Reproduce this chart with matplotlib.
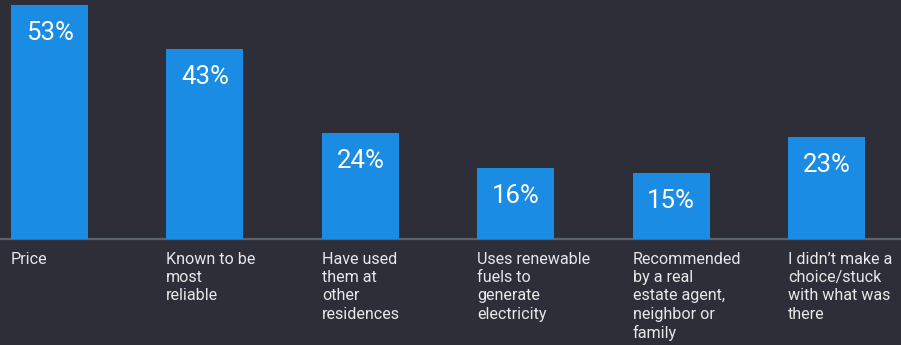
import matplotlib.pyplot as plt

categories = [
    "Price",
    "Known to be\nmost\nreliable",
    "Have used\nthem at\nother\nresidences",
    "Uses renewable\nfuels to\ngenerate\nelectricity",
    "Recommended\nby a real\nestate agent,\nneighbor or\nfamily",
    "I didn\u2019t make a\nchoice/stuck\nwith what was\nthere",
]
shares = [53, 43, 24, 16, 15, 23]

bg = "#2e2e38"
bar_color = "#1a8ce3"
bar_w = 0.496

fig = plt.figure(figsize=(9.01, 3.45), dpi=100, facecolor=bg)
ax = fig.add_axes([0, 0, 1, 1])
ax.set_facecolor(bg)

x = list(range(len(categories)))
ax.bar(x, shares, width=bar_w, color=bar_color, zorder=2)
ax.axhline(0, color="#5b626b", lw=1.6, zorder=1)

for i, v in zip(x, shares):
    # percentage label sits just inside the top of each bar
    ax.annotate(f"{v}%", (i, v), xytext=(0, -20), textcoords="offset points",
                ha="center", va="center", color="white",
                fontsize=18.5, family="Roboto")
    ax.annotate(categories[i], (i - bar_w / 2, 0), xytext=(0, -9),
                textcoords="offset points", ha="left", va="top",
                color="#e8e8e8", fontsize=11.6, family="Roboto",
                linespacing=1.28)

ax.set_xlim(-0.3185, 5.479)
ax.set_ylim(-24.0, 54.13)
ax.axis("off")

fig.savefig("out.png", dpi=100, facecolor=bg)
